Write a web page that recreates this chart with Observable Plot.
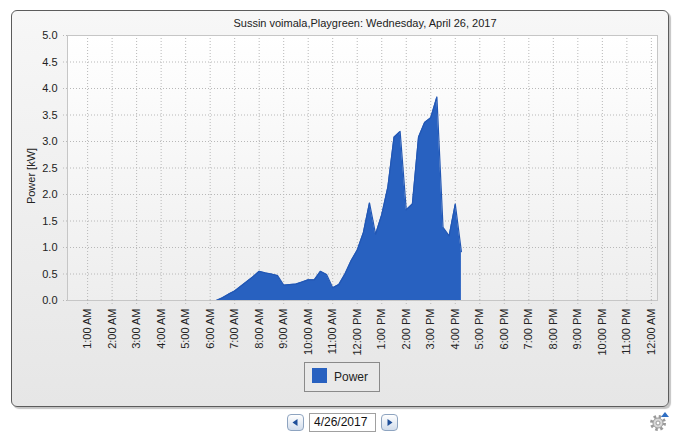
<!DOCTYPE html>
<html>
<head>
<meta charset="utf-8">
<script src="https://cdn.jsdelivr.net/npm/d3@7"></script>
<script src="https://cdn.jsdelivr.net/npm/@observablehq/plot@0.6"></script>
<style>
  html, body { margin: 0; padding: 0; background: #ffffff; }
  body { width: 684px; height: 447px; position: relative; overflow: hidden; font-family: "Liberation Sans", Arial, sans-serif; }
  #panel { position: absolute; left: 11px; top: 10px; width: 656px; height: 395px; border: 1px solid #5c5c5c; border-radius: 6px;
    background: linear-gradient(#f7f7f7, #e6e6e6); box-shadow: 2px 2px 1px #c4c4c4; }
  #plotbg { position: absolute; left: 67px; top: 35px; width: 590px; height: 265px; background: linear-gradient(#ffffff, #eeeeee); }
  #chart { position: absolute; left: 0; top: 0; }
  #title { position: absolute; left: 67px; width: 596px; top: 17px; text-align: center; font-size: 11px; color: #222; }
  #ylabel { position: absolute; left: 31px; top: 176px; transform: translate(-50%, -50%) rotate(-90deg); font-size: 11px; color: #222; white-space: nowrap; }
  #legend { position: absolute; left: 304px; top: 362px; width: 74px; height: 28px; border: 1px solid #8a8a8a; background: #e9e9e9; }
  #legend .sw { position: absolute; left: 7px; top: 5px; width: 15px; height: 15px; background: #2861c0; }
  #legend .lb { position: absolute; left: 29px; top: 7px; font-size: 12px; color: #222; }
  .btn { position: absolute; top: 414px; width: 15px; height: 15px; border: 1px solid #8ea4c0; border-radius: 4px; background: linear-gradient(#ffffff, #d2ddec); }
  .btn svg { position: absolute; left: 0; top: 0; }
  #date { position: absolute; left: 309px; top: 413px; width: 61px; height: 17px; border: 1px solid #a0a0a0; background: #fff; font-size: 12px; line-height: 17px; padding-left: 4px; box-sizing: content-box; color: #111; }
  #gear { position: absolute; left: 648px; top: 410px; }
</style>
</head>
<body>
<div id="panel"></div>
<div id="plotbg"></div>
<div id="chart"></div>
<div id="title">Sussin voimala,Playgreen: Wednesday, April 26, 2017</div>
<div id="ylabel">Power [kW]</div>
<div id="legend"><div class="sw"></div><div class="lb">Power</div></div>
<div class="btn" style="left:287px"><svg width="15" height="15"><path d="M4.5,7.5 L9.5,4 L9.5,11 Z" fill="#1f4f9a"/></svg></div>
<div id="date">4/26/2017</div>
<div class="btn" style="left:381px"><svg width="15" height="15"><path d="M10.5,7.5 L5.5,4 L5.5,11 Z" fill="#1f4f9a"/></svg></div>
<svg id="gear" width="24" height="24" viewBox="0 0 24 24">
  <g transform="translate(10,13)">
    <circle r="6.5" fill="none" stroke="#9a9a9a" stroke-width="3" stroke-dasharray="2.5,2.6"/>
    <circle r="5" fill="#d8d8d8" stroke="#9a9a9a" stroke-width="1"/>
    <circle r="2" fill="#ffffff" stroke="#9a9a9a" stroke-width="1"/>
  </g>
  <path d="M13,7 L17,2 L21,7 Z" fill="#2f6fc4"/>
</svg>
<script>
// ---- data ----
const times = ["00:15","01:15","02:15","03:15","04:15","05:15","06:15",
  "06:30","06:45","07:00","07:15","07:30","07:45","08:00","08:15","08:30","08:45",
  "09:00","09:15","09:30","09:45","10:00","10:15","10:30","10:45",
  "11:00","11:15","11:30","11:45","12:00","12:15","12:30","12:45",
  "13:00","13:15","13:30","13:45","14:00","14:15","14:30","14:45",
  "15:00","15:15","15:30","15:45","16:00","16:15"];
const power = [0,0,0,0,0,0,0,
  0.05,0.12,0.18,0.27,0.36,0.45,0.55,0.52,0.50,0.47,
  0.29,0.30,0.31,0.35,0.39,0.39,0.55,0.49,
  0.24,0.30,0.50,0.75,0.95,1.28,1.84,1.25,
  1.62,2.14,3.08,3.19,1.71,1.82,3.08,3.36,
  3.45,3.84,1.38,1.22,1.82,0.92];
const tickLabels = ["1:00 AM","2:00 AM","3:00 AM","4:00 AM","5:00 AM","6:00 AM","7:00 AM","8:00 AM",
  "9:00 AM","10:00 AM","11:00 AM","12:00 PM","1:00 PM","2:00 PM","3:00 PM","4:00 PM","5:00 PM",
  "6:00 PM","7:00 PM","8:00 PM","9:00 PM","10:00 PM","11:00 PM","12:00 AM"];
const tickHours = [1,2,3,4,5,6,7,8,9,10,11,12,13,14,15,16,17,18,19,20,21,22,23,24];
const yTicks = [0,0.5,1,1.5,2,2.5,3,3.5,4,4.5,5];

const data = times.map((t, i) => {
  const [hh, mm] = t.split(":").map(Number);
  return {h: hh + mm / 60, v: power[i]};
});

const blue = "#2861c0";
const gridStyle = {stroke: "#b8b8b8", strokeOpacity: 1, strokeDasharray: "1,2"};

const chart = Plot.plot({
  width: 684,
  height: 400,
  marginLeft: 67,
  marginRight: 27,
  marginTop: 35,
  marginBottom: 100,
  style: {background: "transparent", fontFamily: "'Liberation Sans', Arial, sans-serif", fontSize: "11px", color: "#222", overflow: "visible"},
  x: {type: "linear", domain: [0.18, 24.25]},
  y: {domain: [0, 5]},
  marks: [
    Plot.gridX(tickHours, gridStyle),
    Plot.gridY(yTicks, gridStyle),
    Plot.areaY(data, {x: "h", y: "v", fill: blue}),
    Plot.lineY(data, {x: "h", y: "v", stroke: "#2257b4", strokeWidth: 1.2}),
    Plot.frame({stroke: "#c6c6c6"}),
    Plot.axisY(yTicks, {tickFormat: d3.format(".1f"), tickSize: 5, tickPadding: 5, label: null,
      stroke: "#b8b8b8", strokeDasharray: "1,2", fill: "#222"}),
    Plot.axisX(tickHours, {tickFormat: d => tickLabels[d - 1], tickRotate: -90, tickSize: 5, tickPadding: 3, label: null,
      stroke: "#b8b8b8", strokeDasharray: "1,2", fill: "#222"})
  ]
});
document.getElementById("chart").appendChild(chart);
</script>
</body>
</html>
